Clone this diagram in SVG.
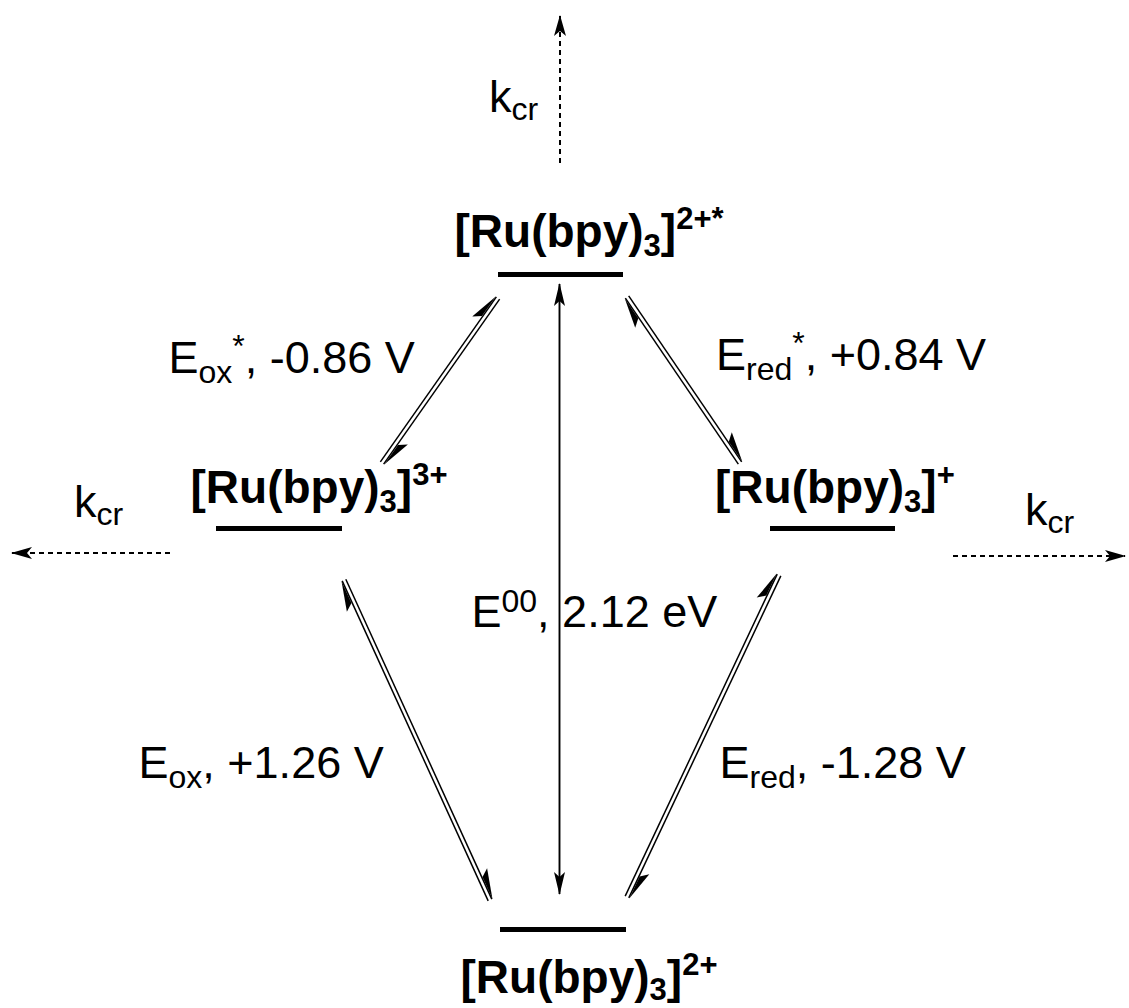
<svg xmlns="http://www.w3.org/2000/svg" width="1129" height="1008" viewBox="0 0 1129 1008">
<style>
.bold{font-family:"Liberation Sans",Arial,sans-serif;font-weight:bold;font-size:46px;fill:#000}
.reg{font-family:"Liberation Sans",Arial,sans-serif;font-size:45px;fill:#000}
.s{font-size:31px}
.r{font-size:32px}
.bar{fill:#000}
.ln{stroke:#000;stroke-width:1.5;fill:none}
.v{stroke:#000;stroke-width:1.9;fill:none}
.dash{stroke:#000;stroke-width:2;fill:none;stroke-dasharray:5 4}
.barb{fill:#000;stroke:none}
</style>
<defs>
<marker id="ah" markerUnits="userSpaceOnUse" markerWidth="30" markerHeight="20" refX="0" refY="0" orient="auto-start-reverse" overflow="visible">
<path d="M1,0 L-22,-5.5 L-17,0 L-22,5.5 Z" fill="#000"/>
</marker>
<marker id="ahd" markerUnits="userSpaceOnUse" markerWidth="30" markerHeight="20" refX="0" refY="0" orient="auto" overflow="visible">
<path d="M1,0 L-20,-6 L-15,0 L-20,6 Z" fill="#000"/>
</marker>
</defs>

<g id="node-excited">
<rect class="bar" x="498" y="272" width="125" height="5"/>
<text class="bold" x="454.5" y="247">[Ru(bpy)<tspan class="s" dy="9">3</tspan><tspan dy="-9">]</tspan><tspan class="s" dy="-18">2+*</tspan></text>
</g>
<g id="node-oxidized">
<rect class="bar" x="216" y="526" width="126" height="5"/>
<text class="bold" x="190.5" y="503">[Ru(bpy)<tspan class="s" dy="9">3</tspan><tspan dy="-9">]</tspan><tspan class="s" dy="-18">3+</tspan></text>
</g>
<g id="node-reduced">
<rect class="bar" x="770" y="526" width="125" height="5"/>
<text class="bold" x="715" y="503">[Ru(bpy)<tspan class="s" dy="9">3</tspan><tspan dy="-9">]</tspan><tspan class="s" dy="-18">+</tspan></text>
</g>
<g id="node-ground">
<rect class="bar" x="500" y="927" width="126" height="5"/>
<text class="bold" x="460.5" y="993">[Ru(bpy)<tspan class="s" dy="7">3</tspan><tspan dy="-7">]</tspan><tspan class="s" dy="-18">2+</tspan></text>
</g>

<g id="connectors">
<line class="v" x1="559.5" y1="284" x2="559.5" y2="894" marker-start="url(#ah)" marker-end="url(#ah)"/>
<line class="dash" x1="560" y1="163" x2="560" y2="16" marker-end="url(#ahd)"/>
<line class="dash" x1="170" y1="553" x2="12" y2="553" marker-end="url(#ahd)"/>
<line class="dash" x1="953" y1="556" x2="1125" y2="556" marker-end="url(#ahd)"/>

<g transform="translate(382,463) rotate(-54.89)">
<line class="ln" x1="0" y1="-2" x2="201.7" y2="-2"/>
<line class="ln" x1="0" y1="2" x2="201.7" y2="2"/>
<path class="barb" d="M201.7,-2.7 L171.7,-10.5 L177.7,-2.7 Z"/>
<path class="barb" d="M0,2.7 L30,10.5 L24,2.7 Z"/>
</g>
<g transform="translate(740,463) rotate(-124.24)">
<line class="ln" x1="0" y1="-2" x2="200.8" y2="-2"/>
<line class="ln" x1="0" y1="2" x2="200.8" y2="2"/>
<path class="barb" d="M200.8,-2.7 L170.8,-10.5 L176.8,-2.7 Z"/>
<path class="barb" d="M0,2.7 L30,10.5 L24,2.7 Z"/>
</g>
<g transform="translate(490,900) rotate(-114.53)">
<line class="ln" x1="0" y1="-2" x2="351.7" y2="-2"/>
<line class="ln" x1="0" y1="2" x2="351.7" y2="2"/>
<path class="barb" d="M351.7,-2.7 L321.7,-10.5 L327.7,-2.7 Z"/>
<path class="barb" d="M0,2.7 L30,10.5 L24,2.7 Z"/>
</g>
<g transform="translate(627,897) rotate(-64.73)">
<line class="ln" x1="0" y1="-2" x2="356.1" y2="-2"/>
<line class="ln" x1="0" y1="2" x2="356.1" y2="2"/>
<path class="barb" d="M356.1,-2.7 L326.1,-10.5 L332.1,-2.7 Z"/>
<path class="barb" d="M0,2.7 L30,10.5 L24,2.7 Z"/>
</g>
</g>

<g id="labels">
<text class="reg" x="489" y="112">k<tspan class="r" dy="8">cr</tspan></text>
<text class="reg" x="74" y="517">k<tspan class="r" dy="8">cr</tspan></text>
<text class="reg" x="1025" y="525">k<tspan class="r" dy="8">cr</tspan></text>
<text class="reg" x="168.5" y="373">E<tspan class="r" dy="10">ox</tspan><tspan class="r" dy="-26">*</tspan><tspan dy="16">, -0.86 V</tspan></text>
<text class="reg" x="716" y="370">E<tspan class="r" dy="10">red</tspan><tspan class="r" dy="-26">*</tspan><tspan dy="16">, +0.84 V</tspan></text>
<text class="reg" x="471.5" y="627">E<tspan class="r" dy="-15">00</tspan><tspan dy="15">, 2.12 eV</tspan></text>
<text class="reg" x="138.5" y="778">E<tspan class="r" dy="10">ox</tspan><tspan dy="-10">, +1.26 V</tspan></text>
<text class="reg" x="719.5" y="778">E<tspan class="r" dy="10">red</tspan><tspan dy="-10">, -1.28 V</tspan></text>
</g>
</svg>
